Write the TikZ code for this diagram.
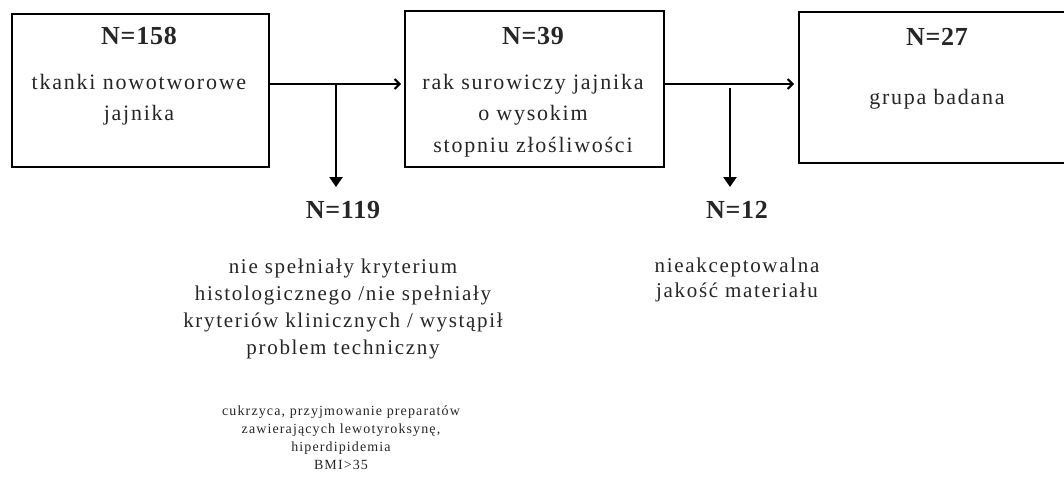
\documentclass[tikz,border=0pt]{standalone}
\usepackage{fontspec}
\setmainfont{Liberation Serif}
\newfontfamily\spaced[LetterSpace=8]{Liberation Serif}
\newfontfamily\spacedb[LetterSpace=3]{Liberation Serif Bold}
\usetikzlibrary{arrows.meta}
\tikzset{
  box/.style={draw, line width=1.6pt, rectangle, inner sep=0pt, anchor=north west},
  title/.style={font=\spacedb\fontsize{26}{30}\selectfont, text=black!85, inner sep=0pt},
  body/.style={font=\spaced\fontsize{22}{31.5}\selectfont, text=black!85, align=center, inner sep=0pt},
  lower/.style={font=\spaced\fontsize{21}{27}\selectfont, text=black!85, align=center, inner sep=0pt},
  small/.style={font=\spaced\fontsize{14}{18}\selectfont, text=black!85, align=center, inner sep=0pt},
  flow/.style={line width=2.4pt, -{Straight Barb[length=5pt,width=10pt,line width=2pt]}},
  drop/.style={line width=2.4pt, -{Triangle[length=10pt,width=13pt]}}
}
\begin{document}
\begin{tikzpicture}[x=1pt,y=-1pt]
\clip (0,0) rectangle (1064,484);
\useasboundingbox (0,0) rectangle (1064,484);
\fill[white] (0,0) rectangle (1064,484);

\node[box, minimum width=257pt, minimum height=153pt] (b1) at (11,13) {};
\node[box, minimum width=259pt, minimum height=156pt] (b2) at (404,10) {};
\node[box, minimum width=290pt, minimum height=151pt] (b3) at (798,11) {};

\node[title] (t1) at (139,36) {N=158};
\node[body, anchor=north] (x1) at (139,74) {tkanki nowotworowe\\jajnika};

\node[title] (t2) at (533,36) {N=39};
\node[body, anchor=north] (x2) at (533,74) {rak surowiczy jajnika\\o wysokim\\stopniu złośliwości};

\node[title] (t3) at (937,37) {N=27};
\node[body] (x3) at (937,99) {grupa badana};

\node[title] (t4) at (343,210) {N=119};
\node[lower, anchor=north] (x4) at (343,259) {nie spełniały kryterium\\histologicznego /nie spełniały\\kryteriów klinicznych / wystąpił\\problem techniczny};
\node[small, anchor=north] (x5) at (341,406) {cukrzyca, przyjmowanie preparatów\\zawierających lewotyroksynę,\\hiperdipidemia\\BMI>35};

\node[title] (t5) at (737,210) {N=12};
\node[lower, anchor=north, font=\spaced\fontsize{21}{25}\selectfont] (x6) at (737,258) {nieakceptowalna\\jakość materiału};

\coordinate (j1) at (336,84);
\coordinate (j2) at (730,88);
\draw[flow] (b1.east |- j1) -- ([xshift=-3pt]b2.west |- j1);
\draw[flow] (b2.east |- 0,84) -- ([xshift=-4pt]b3.west |- 0,84);
\draw[drop] (j1) -- (336,187);
\draw[drop] (j2) -- (730,187);
\end{tikzpicture}
\end{document}
